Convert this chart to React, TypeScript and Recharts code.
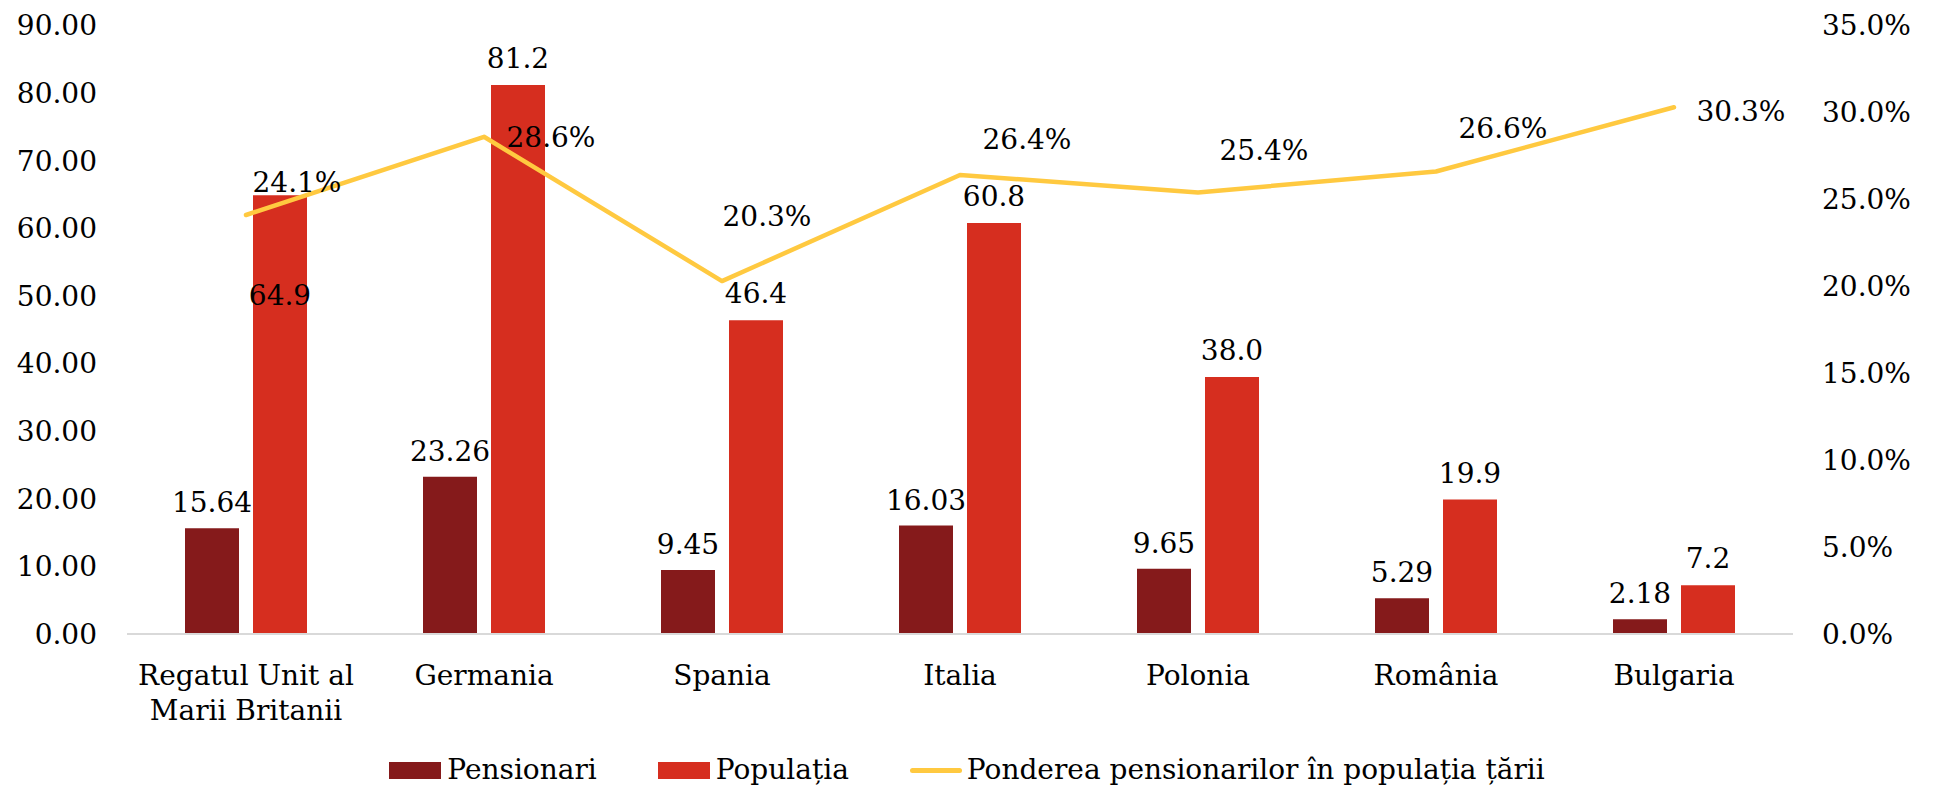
import React from 'react';
import { ComposedChart, Bar, Line, XAxis, YAxis, Legend, LabelList } from 'recharts';

const categories = [
  'Regatul Unit al Marii Britanii',
  'Germania',
  'Spania',
  'Italia',
  'Polonia',
  'România',
  'Bulgaria',
];
const pensionari = [15.64, 23.26, 9.45, 16.03, 9.65, 5.29, 2.18];
const populatia = [64.9, 81.2, 46.4, 60.8, 38.0, 19.9, 7.2];
const pondere = [24.1, 28.6, 20.3, 26.4, 25.4, 26.6, 30.3];
const leftTicks = [0, 10, 20, 30, 40, 50, 60, 70, 80, 90];
const rightTicks = [0, 5, 10, 15, 20, 25, 30, 35];

const seriesNames = {
  pensionari: 'Pensionari',
  populatia: 'Populația',
  pondere: 'Ponderea pensionarilor în populația țării',
};

const data = categories.map((c, i) => ({
  category: c,
  pensionari: pensionari[i],
  populatia: populatia[i],
  pondere: pondere[i],
}));

// label nudges (layout only)
const lineLabelOffsets: [number, number][] = [
  [51, -33], [67, 0], [45, -65], [67, -36], [66, -42], [67, -44], [67, 4],
];
const popLabelOffsets = [100, -27, -27, -27, -27, -27, -27];
const pensLabelOffset = -26;
const MAX_CHARS_PER_LINE = 16;

const FONT = 'DejaVu Serif';
const FS = 28;
const C_DARK = '#851A1B';
const C_RED = '#D62E1F';
const C_LINE = '#FFC940';

const W = 1934;
const H = 788;

const findIndex = (arr: number[], v: any, idx: any) =>
  typeof idx === 'number' ? idx : arr.indexOf(Number(v));

const wrapWords = (s: string, max: number) => {
  const words = s.split(' ');
  const lines: string[] = [];
  let cur = '';
  for (const w of words) {
    const next = cur ? cur + ' ' + w : w;
    if (next.length > max && cur) {
      lines.push(cur);
      cur = w;
    } else {
      cur = next;
    }
  }
  if (cur) lines.push(cur);
  return lines;
};

const PensLabel = (props: any) => {
  const { x, y, width, value } = props;
  return (
    <text
      x={x + width / 2}
      y={y + pensLabelOffset}
      dy="0.36em"
      textAnchor="middle"
      fontFamily={FONT}
      fontSize={FS}
      fill="#000"
    >
      {Number(value).toFixed(2)}
    </text>
  );
};

const PopLabel = (props: any) => {
  const { x, y, width, value, index } = props;
  const i = findIndex(populatia, value, index);
  const off = popLabelOffsets[i] ?? -27;
  return (
    <text
      x={x + width / 2}
      y={y + off}
      dy="0.36em"
      textAnchor="middle"
      fontFamily={FONT}
      fontSize={FS}
      fill="#000"
    >
      {Number(value).toFixed(1)}
    </text>
  );
};

const LineLabel = (props: any) => {
  const { x, y, value, index } = props;
  const i = findIndex(pondere, value, index);
  const [dx, dy] = lineLabelOffsets[i] ?? [60, -30];
  return (
    <text
      x={x + dx}
      y={y + dy}
      dy="0.36em"
      textAnchor="middle"
      fontFamily={FONT}
      fontSize={FS}
      fill="#000"
    >
      {Number(value).toFixed(1) + '%'}
    </text>
  );
};

const CategoryTick = (props: any) => {
  const { x, y, payload } = props;
  const lines = wrapWords(String(payload.value), MAX_CHARS_PER_LINE);
  return (
    <text x={x} y={y + 51} textAnchor="middle" fontFamily={FONT} fontSize={FS} fill="#000">
      {lines.map((l, i) => (
        <tspan key={i} x={x} dy={i === 0 ? 0 : 35}>
          {l}
        </tspan>
      ))}
    </text>
  );
};

const swatch = (kind: 'bar' | 'line', color: string) =>
  kind === 'bar' ? (
    <span style={{ display: 'inline-block', width: 52, height: 17, background: color, marginRight: 6 }} />
  ) : (
    <span
      style={{
        display: 'inline-block',
        width: 52,
        height: 5,
        borderRadius: 3,
        background: color,
        marginRight: 5,
      }}
    />
  );

const LegendContent = () => {
  const items: { key: string; kind: 'bar' | 'line'; color: string }[] = [
    { key: 'pensionari', kind: 'bar', color: C_DARK },
    { key: 'populatia', kind: 'bar', color: C_RED },
    { key: 'pondere', kind: 'line', color: C_LINE },
  ];
  return (
    <div
      style={{
        display: 'flex',
        justifyContent: 'center',
        alignItems: 'center',
        height: 40,
        paddingTop: 4,
        boxSizing: 'border-box',
        fontFamily: FONT,
        fontSize: FS,
        color: '#000',
        whiteSpace: 'nowrap',
      }}
    >
      {items.map((it, i) => (
        <div
          key={it.key}
          style={{ display: 'flex', alignItems: 'center', marginRight: i < items.length - 1 ? 61 : 0 }}
        >
          {swatch(it.kind, it.color)}
          <span style={{ lineHeight: 1 }}>{(seriesNames as any)[it.key]}</span>
        </div>
      ))}
    </div>
  );
};

export default function App() {
  return (
    <div style={{ position: 'absolute', left: 0, top: 0, width: W, height: H, background: '#fff' }}>
      <ComposedChart
        width={W}
        height={H}
        data={data}
        margin={{ top: 25.5, right: 0, bottom: 0, left: 0 }}
        barSize={54}
        barGap={14}
      >
        <XAxis
          dataKey="category"
          height={114}
          axisLine={{ stroke: '#D9D9D9', strokeWidth: 2 }}
          tickLine={false}
          tickSize={0}
          tickMargin={0}
          interval={0}
          tick={<CategoryTick />}
        />
        <YAxis
          yAxisId="left"
          orientation="left"
          width={127}
          domain={[0, 90]}
          ticks={leftTicks}
          axisLine={false}
          tickLine={false}
          tickSize={0}
          tickMargin={30}
          tickFormatter={(v: number) => v.toFixed(2)}
          tick={{ fill: '#000', fontSize: FS, fontFamily: FONT }}
        />
        <YAxis
          yAxisId="right"
          orientation="right"
          width={141}
          domain={[0, 35]}
          ticks={rightTicks}
          axisLine={false}
          tickLine={false}
          tickSize={0}
          tickMargin={29}
          tickFormatter={(v: number) => v.toFixed(1) + '%'}
          tick={{ fill: '#000', fontSize: FS, fontFamily: FONT, textAnchor: 'start' }}
        />
        <Legend verticalAlign="bottom" content={<LegendContent />} />
        <Bar
          yAxisId="left"
          dataKey="pensionari"
          name={seriesNames.pensionari}
          fill={C_DARK}
          isAnimationActive={false}
        >
          <LabelList dataKey="pensionari" content={<PensLabel />} />
        </Bar>
        <Bar
          yAxisId="left"
          dataKey="populatia"
          name={seriesNames.populatia}
          fill={C_RED}
          isAnimationActive={false}
        >
          <LabelList dataKey="populatia" content={<PopLabel />} />
        </Bar>
        <Line
          yAxisId="right"
          dataKey="pondere"
          name={seriesNames.pondere}
          type="linear"
          stroke={C_LINE}
          strokeWidth={4.5}
          strokeLinecap="round"
          strokeLinejoin="round"
          dot={false}
          activeDot={false}
          isAnimationActive={false}
        >
          <LabelList dataKey="pondere" content={<LineLabel />} />
        </Line>
      </ComposedChart>
    </div>
  );
}
